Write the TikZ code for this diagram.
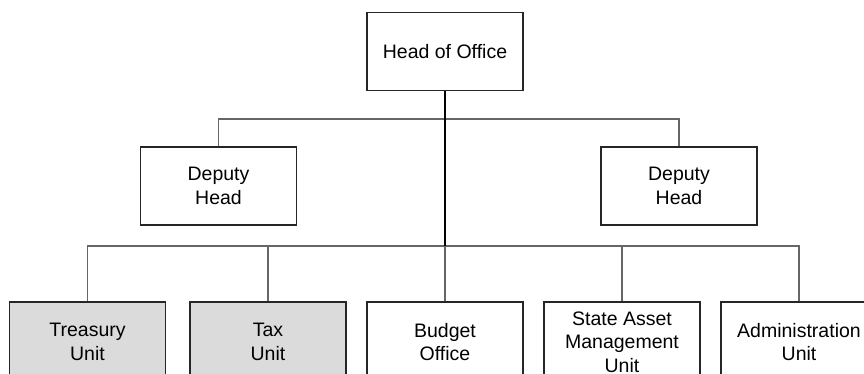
\documentclass[tikz,border=0pt]{standalone}
\usepackage{fontspec}
\setmainfont{Liberation Sans}
\begin{document}
\begin{tikzpicture}[x=1pt,y=-1pt,
  unitbox/.style={draw=black!85, line width=1.1pt, fill=white, align=center,
    minimum width=156pt, minimum height=78pt, inner sep=0pt,
    font=\fontsize{19.5}{23.6}\selectfont},
  shaded/.style={unitbox, fill=black!14},
  link/.style={draw=black!60, line width=1.3pt},
  trunk/.style={draw=black, line width=2.6pt}]
\useasboundingbox (0,0) rectangle (864,374);
\clip (0,0) rectangle (864,374);

% top of the chart
\node[unitbox] (head) at (445,51.5) {Head of Office};
\node[unitbox] (depL) at (218.5,186) {Deputy\\Head};
\node[unitbox] (depR) at (679,186) {Deputy\\Head};

% units
\node[shaded, minimum height=80pt] (treasury) at (87.5,342) {Treasury\\Unit};
\node[shaded, minimum height=80pt] (tax) at (268,342) {Tax\\Unit};
\node[unitbox, minimum height=80pt] (budget) at (445,342) {Budget\\Office};
\node[unitbox, minimum height=80pt] (asset) at (622,342) {State Asset\\Management\\Unit};
\node[unitbox, minimum height=80pt] (admin) at (799,342) {Administration\\Unit};

% bus lines
\coordinate (topbus) at (445,119);
\coordinate (lowbus) at (445,246);

\draw[link] (depL.north) |- (topbus) -| (depR.north);
\draw[link] (treasury.north) |- (lowbus) -| (admin.north);
\draw[link] (tax.north) -- (tax.north |- lowbus);
\draw[link] (budget.north) -- (lowbus);
\draw[link] (asset.north) -- (asset.north |- lowbus);
\draw[trunk] (head.south) -- (lowbus);
\end{tikzpicture}
\end{document}
